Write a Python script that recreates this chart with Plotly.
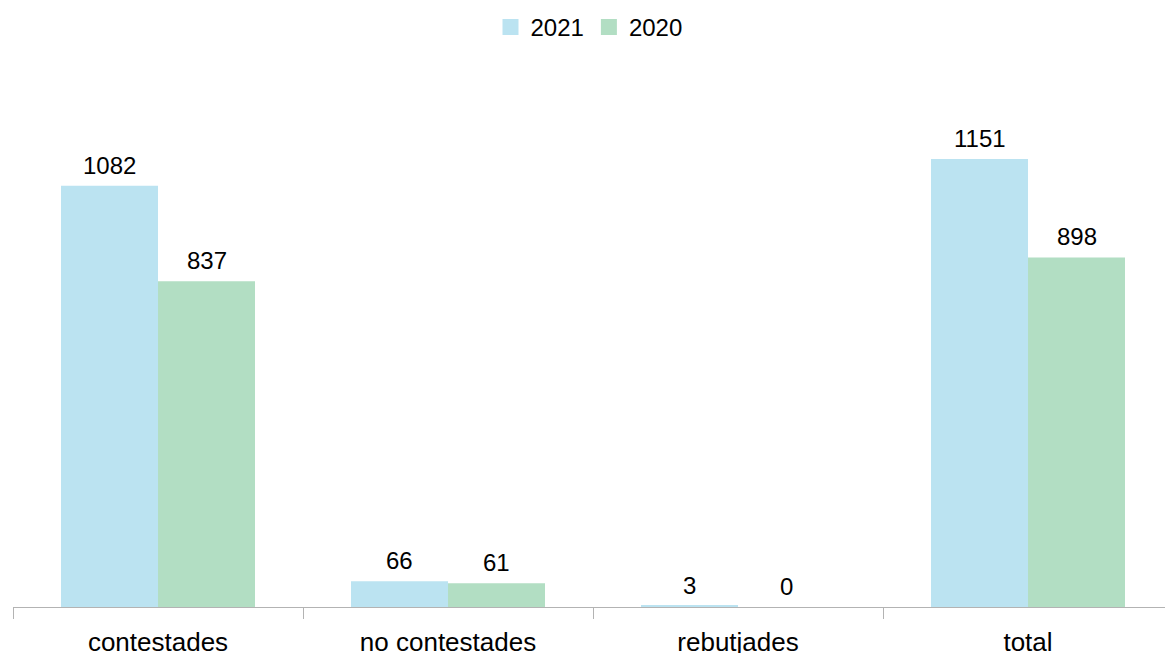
import plotly.graph_objects as go

categories = ["contestades", "no contestades", "rebutjades", "total"]
values_2021 = [1082, 66, 3, 1151]
values_2020 = [837, 61, 0, 898]
series = [("2021", values_2021), ("2020", values_2020)]

FONT = "Liberation Sans, Arial, sans-serif"
COLORS = {"2021": "#bbe3f1", "2020": "#b2dec3"}
BAR_OFFSET_PX = {"2021": -48.5, "2020": 48.5}

fig = go.Figure()
for name, vals in series:
    fig.add_trace(go.Bar(
        name=name, x=categories, y=vals, marker_color=COLORS[name],
        marker_line_width=0, showlegend=False, hoverinfo="x+y+name",
    ))

# legend entries with larger square swatches
for name, _ in series:
    fig.add_trace(go.Scatter(
        name=name, x=[None], y=[None], mode="markers",
        marker=dict(symbol="square", size=17, color=COLORS[name]),
    ))

# value labels above each bar
annotations = []
for name, vals in series:
    for cat, v in zip(categories, vals):
        annotations.append(dict(
            x=cat, y=v, xref="x", yref="y", text=str(v), showarrow=False,
            xanchor="center", yanchor="bottom", xshift=BAR_OFFSET_PX[name], yshift=5,
            font=dict(family=FONT, size=24, color="black"),
        ))

fig.update_layout(
    width=1165, height=653,
    margin=dict(l=13, r=0, t=80, b=46),
    paper_bgcolor="white", plot_bgcolor="white",
    barmode="group", bargap=0.331, bargroupgap=0,
    font=dict(family=FONT, size=24, color="black"),
    legend=dict(orientation="h", x=0.5, xanchor="center", y=1.10, yanchor="middle",
                font=dict(size=24), itemwidth=30, traceorder="normal"),
    xaxis=dict(
        range=[-0.5, 3.4724], showline=True, linecolor="#b3b3b3", linewidth=1,
        ticks="outside", tickson="boundaries", ticklen=11, tickcolor="#b3b3b3",
        showgrid=False, tickfont=dict(size=26, color="black"), ticklabelstandoff=12,
        automargin=False,
    ),
    yaxis=dict(range=[0, 1354], visible=False, showgrid=False, automargin=False),
    annotations=annotations,
)

fig.write_html("out.html")
